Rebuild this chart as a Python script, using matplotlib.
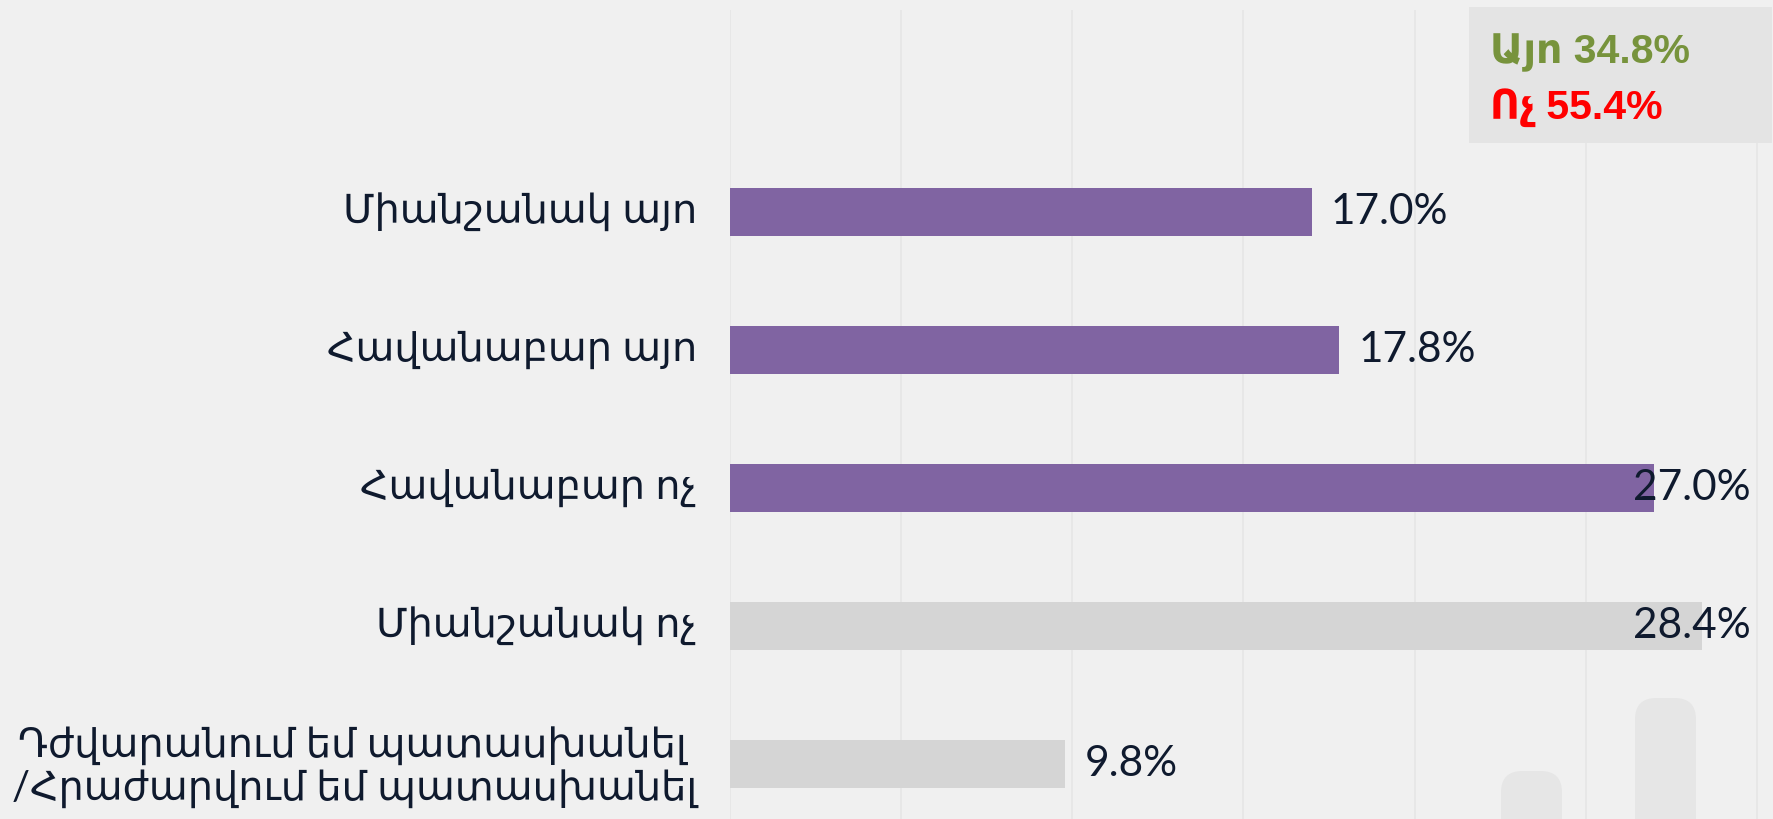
import matplotlib
matplotlib.use("Agg")
import matplotlib.pyplot as plt
from matplotlib.patches import FancyBboxPatch, Rectangle

categories = ["Միանշանակ այո", "Հավանաբար այո", "Հավանաբար ոչ",
              "Միանշանակ ոչ", "Դժվարանում եմ պատասխանել \n/Հրաժարվում եմ պատասխանել"]
values = [17.0, 17.8, 27.0, 28.4, 9.8]
bar_colors = ["#8064a2", "#8064a2", "#8064a2", "#d5d5d5", "#d5d5d5"]
summary_yes = "Այո 34.8%"
summary_no = "Ոչ 55.4%"

FONT = ["Lato", "DejaVu Sans"]
BFONT = ["Liberation Sans", "DejaVu Sans"]
TXT = "#0f1a2e"
BG = "#f0f0f0"

W, H = 1774, 819
fig = plt.figure(figsize=(W / 100, H / 100), dpi=100, facecolor=BG)

# decorative rounded shapes bottom right
for (x0, x1, ytop) in [(1501, 1562, 771), (1635, 1696, 698)]:
    p = FancyBboxPatch((x0 / W, 0 - 0.05), (x1 - x0) / W, (H - ytop) / H + 0.05,
                       boxstyle="round,pad=0,rounding_size=0.012",
                       transform=fig.transFigure, facecolor="#e6e6e6",
                       edgecolor="none", zorder=0, mutation_aspect=W / H)
    fig.patches.append(p)

ax = fig.add_axes([730 / W, 0, 1 - 730 / W, 1 - 10 / H])
ax.set_facecolor("none")
ypos = list(range(len(categories)))
ax.barh(ypos, values, height=0.35, color=bar_colors, zorder=2)
ax.set_xlim(0, 30.5)
ax.set_ylim(4.40, -1.464)
ax.set_xticks([0, 5, 10, 15, 20, 25, 30])
ax.xaxis.grid(True, color="#e6e6e6", linewidth=1.2, zorder=0)
ax.set_axisbelow(True)
ax.tick_params(left=False, bottom=False, labelbottom=False, labelleft=False)
for s in ax.spines.values():
    s.set_visible(False)

for y, v in zip(ypos, values):
    lab = f"{v:.1f}%"
    x = 26.38 if v > 25 else v + 0.55
    ax.text(x, y, lab, ha="left", va="center", fontsize=30.5,
            color=TXT, family=FONT, zorder=3)

# category labels
for y, c in zip(ypos, categories):
    yf = ax.transData.transform((0, y))
    yfig = fig.transFigure.inverted().transform(yf)[1]
    fig.text(697 / W, yfig - 0.004 * ("\n" in c), c, ha="right", va="center",
             fontsize=28.7, color=TXT, family=FONT, linespacing=1.15)

# summary box
box = Rectangle((1469 / W, 1 - 143 / H), (1772 - 1469) / W, (143 - 7) / H,
                transform=fig.transFigure, facecolor="#e4e4e4",
                edgecolor="none", zorder=5)
fig.patches.append(box)
fig.text(1490 / W, 1 - 63 / H, summary_yes, ha="left", va="baseline",
         fontsize=29.5, fontweight="bold", color="#77933c", family=BFONT, zorder=6)
fig.text(1490 / W, 1 - 119 / H, summary_no, ha="left", va="baseline",
         fontsize=29.5, fontweight="bold", color="#ff0000", family=BFONT, zorder=6)

fig.savefig("out.png", dpi=100, facecolor=BG)
